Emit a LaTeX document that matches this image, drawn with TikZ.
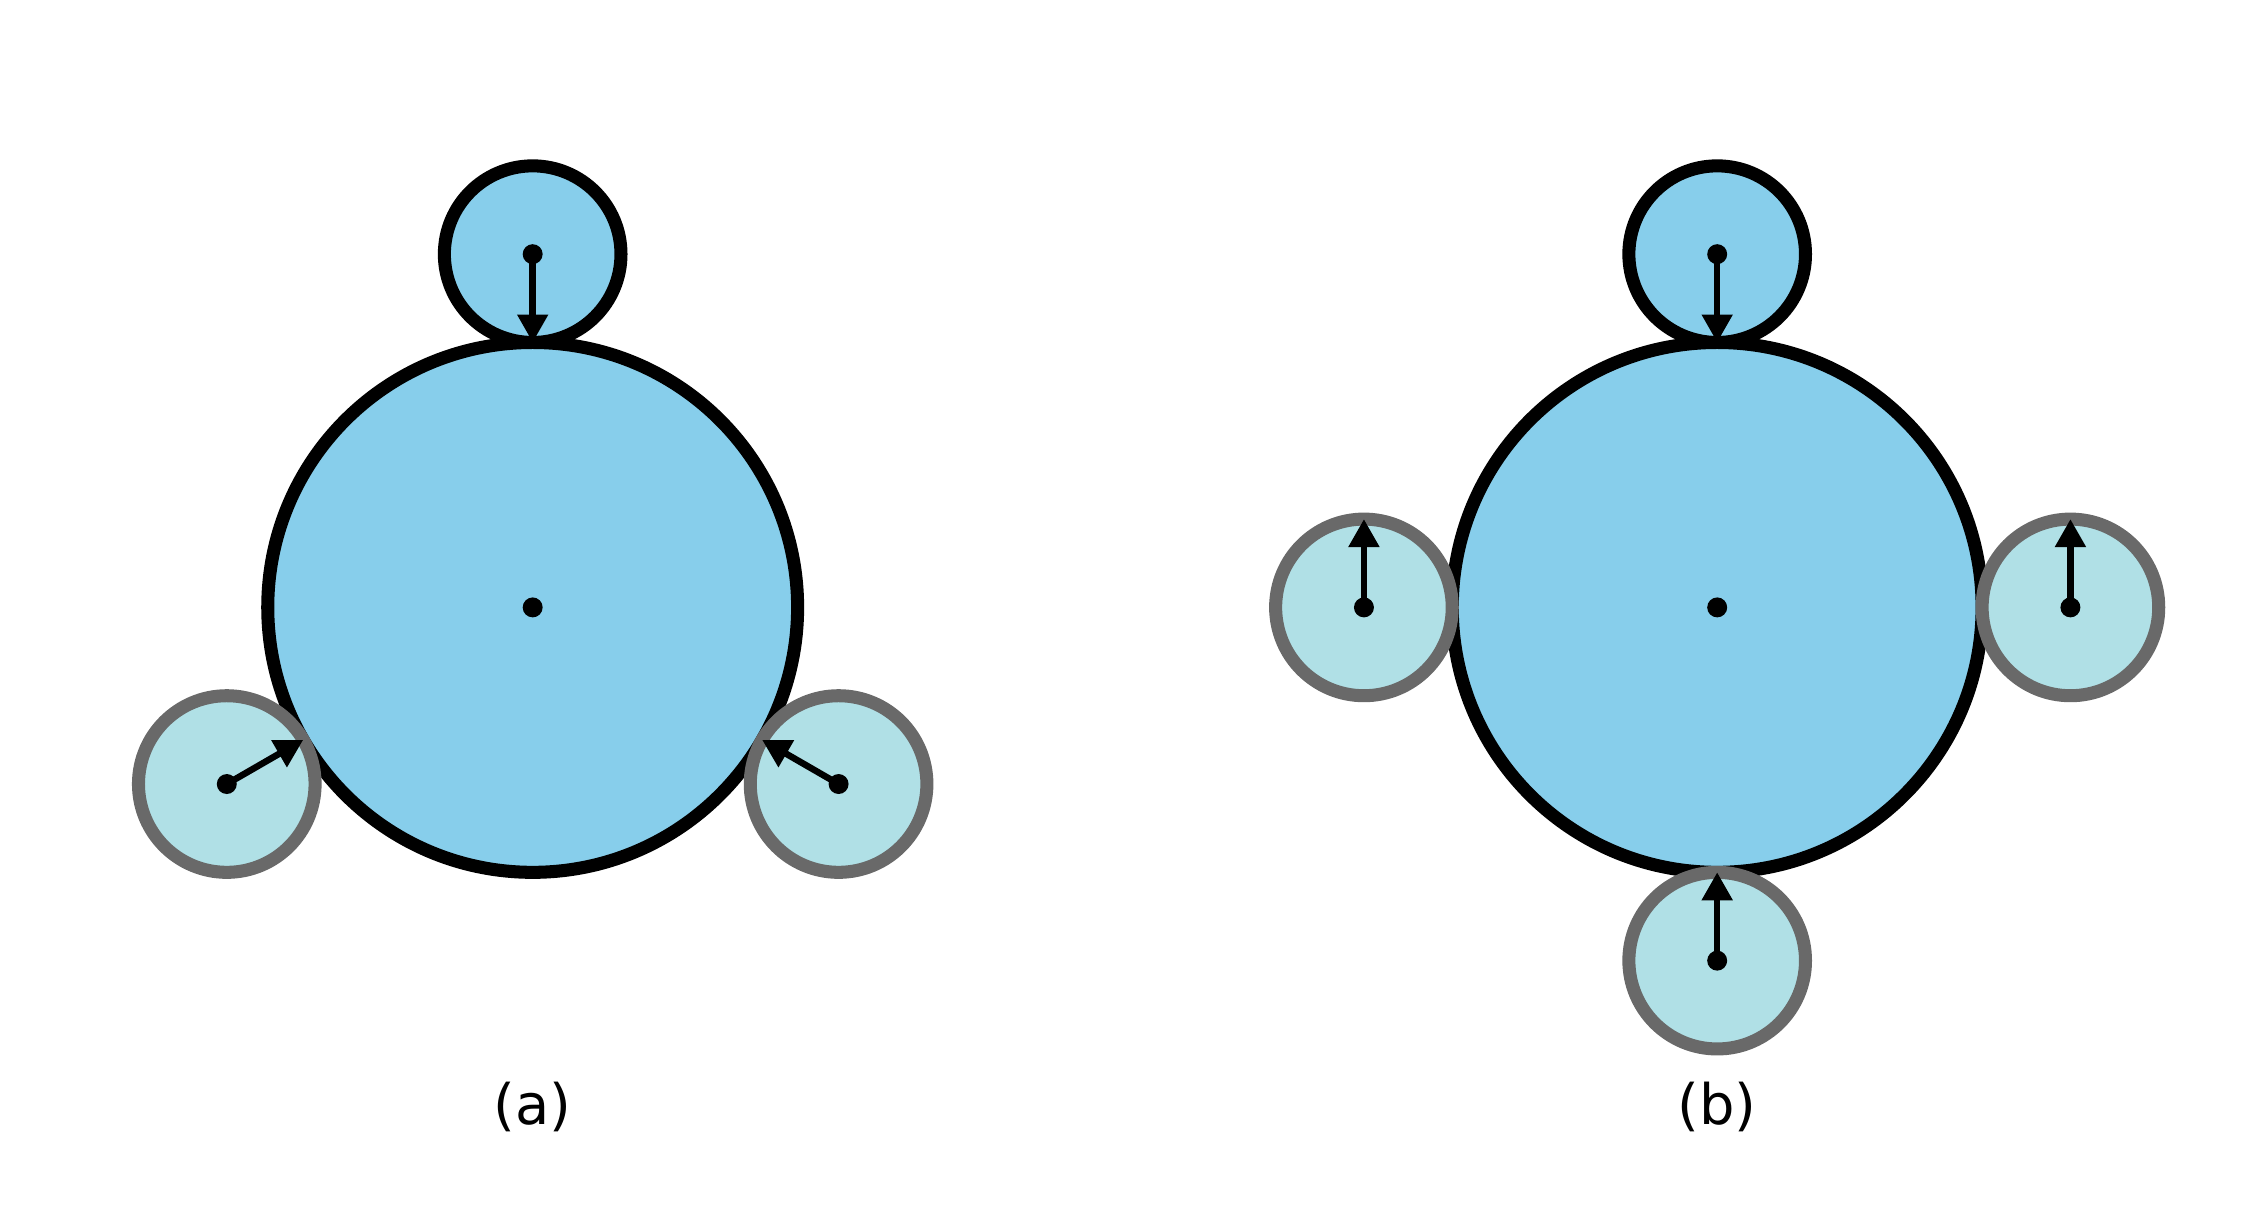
\documentclass[tikz,border=0pt]{standalone}
\usepackage{fontspec}
\setmainfont{DejaVu Sans}
\usetikzlibrary{arrows.meta}
\definecolor{skyb}{HTML}{87CEEB}
\definecolor{powb}{HTML}{B0E0E6}
\definecolor{dimg}{HTML}{696969}
\begin{document}
\begin{tikzpicture}[x=1cm,y=1cm,
  bigc/.style={circle,draw=black,fill=skyb,line width=4.2pt,minimum size=6cm,inner sep=0pt,outer sep=0pt},
  topc/.style={circle,draw=black,fill=skyb,line width=4.2pt,minimum size=2cm,inner sep=0pt,outer sep=0pt},
  litc/.style={circle,draw=dimg,fill=powb,line width=4.2pt,minimum size=2cm,inner sep=0pt,outer sep=0pt},
  dot/.style={circle,fill=black,minimum size=0.226cm,inner sep=0pt,outer sep=0pt},
  arr/.style={line width=2.1pt,-{Triangle[length=9pt,width=9.5pt]}},
  lab/.style={font=\fontsize{18}{22}\selectfont,inner sep=0pt}]
\path[use as bounding box] (0,0) rectangle (25.49,-13.76);
% panel (a)
\node[topc] (At) at (6.032,-2.878) {};
\node[bigc] (A) at (6.032,-6.878) {};
\node[litc] (Al) at (2.568,-8.878) {};
\node[litc] (Ar) at (9.496,-8.878) {};
\draw[arr] (At.center) -- (At.south);
\draw[arr] (Al.center) -- (Al.30);
\draw[arr] (Ar.center) -- (Ar.150);
\node[dot] (Ad) at (A.center) {};
\node[dot] (Atd) at (At.center) {};
\node[dot] (Ald) at (Al.center) {};
\node[dot] (Ard) at (Ar.center) {};
\node[lab] (la) at (6.032,-12.54) {(a)};
% panel (b)
\node[topc] (Bt) at (19.445,-2.878) {};
\node[bigc] (B) at (19.445,-6.878) {};
\node[litc] (Bl) at (15.445,-6.878) {};
\node[litc] (Br) at (23.445,-6.878) {};
\node[litc] (Bb) at (19.445,-10.878) {};
\draw[arr] (Bt.center) -- (Bt.south);
\draw[arr] (Bl.center) -- (Bl.north);
\draw[arr] (Br.center) -- (Br.north);
\draw[arr] (Bb.center) -- (Bb.north);
\node[dot] (Bd) at (B.center) {};
\node[dot] (Btd) at (Bt.center) {};
\node[dot] (Bld) at (Bl.center) {};
\node[dot] (Brd) at (Br.center) {};
\node[dot] (Bbd) at (Bb.center) {};
\node[lab] (lb) at (19.445,-12.54) {(b)};
\end{tikzpicture}
\end{document}
